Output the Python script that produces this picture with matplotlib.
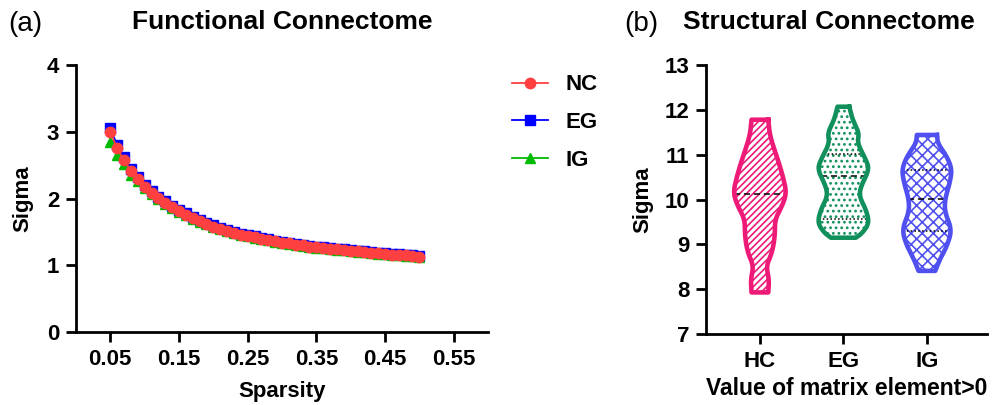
import matplotlib
matplotlib.use('Agg')
import numpy as np
import matplotlib.pyplot as plt

plt.rcParams['font.family'] = ['Liberation Sans', 'DejaVu Sans']
plt.rcParams['hatch.linewidth'] = 1.2

# ---- (a) functional connectome data
sparsity = [0.05, 0.06, 0.07, 0.08, 0.09, 0.10, 0.11, 0.12, 0.13, 0.14,
            0.15, 0.16, 0.17, 0.18, 0.19, 0.20, 0.21, 0.22, 0.23, 0.24,
            0.25, 0.26, 0.27, 0.28, 0.29, 0.30, 0.31, 0.32, 0.33, 0.34,
            0.35, 0.36, 0.37, 0.38, 0.39, 0.40, 0.41, 0.42, 0.43, 0.44,
            0.45, 0.46, 0.47, 0.48, 0.49, 0.50]
sigma_nc = [3.00, 2.75, 2.58, 2.41, 2.29, 2.18, 2.09, 2.01, 1.94, 1.87,
            1.81, 1.76, 1.71, 1.66, 1.62, 1.58, 1.55, 1.52, 1.49, 1.46,
            1.44, 1.42, 1.40, 1.38, 1.36, 1.34, 1.33, 1.31, 1.30, 1.28,
            1.27, 1.26, 1.25, 1.24, 1.23, 1.22, 1.21, 1.20, 1.19, 1.18,
            1.17, 1.16, 1.155, 1.15, 1.14, 1.13]
sigma_eg = [3.05, 2.80, 2.62, 2.45, 2.32, 2.21, 2.12, 2.03, 1.96, 1.89,
            1.83, 1.78, 1.73, 1.68, 1.64, 1.60, 1.565, 1.535, 1.505, 1.475,
            1.455, 1.435, 1.41, 1.39, 1.37, 1.35, 1.34, 1.32, 1.31, 1.29,
            1.28, 1.27, 1.26, 1.25, 1.24, 1.23, 1.22, 1.21, 1.20, 1.19,
            1.18, 1.17, 1.165, 1.16, 1.15, 1.14]
sigma_ig = [2.85, 2.65, 2.52, 2.36, 2.26, 2.16, 2.07, 1.99, 1.92, 1.86,
            1.80, 1.75, 1.70, 1.655, 1.615, 1.575, 1.545, 1.515, 1.485, 1.455,
            1.435, 1.415, 1.395, 1.375, 1.355, 1.335, 1.325, 1.305, 1.295, 1.275,
            1.265, 1.255, 1.245, 1.235, 1.225, 1.215, 1.205, 1.195, 1.185, 1.175,
            1.165, 1.155, 1.15, 1.145, 1.135, 1.125]

# ---- (b) structural connectome: violin outlines (sigma level, half width)
groups = ['HC', 'EG', 'IG']
hc_level = [11.78, 11.41, 10.89, 10.52, 10.15, 9.85, 9.56, 9.18, 8.81, 8.52, 8.22, 7.93]
hc_width = [0.10, 0.12, 0.215, 0.275, 0.32, 0.265, 0.18, 0.18, 0.145, 0.075, 0.11, 0.10]
eg_level = [12.07, 11.78, 11.48, 11.26, 10.89, 10.67, 10.30, 10.07, 9.78, 9.48, 9.26, 9.15]
eg_width = [0.07, 0.11, 0.19, 0.165, 0.27, 0.31, 0.21, 0.19, 0.27, 0.31, 0.23, 0.15]
ig_level = [11.44, 11.25, 10.96, 10.67, 10.38, 10.00, 9.71, 9.33, 8.96, 8.67, 8.41]
ig_width = [0.12, 0.13, 0.24, 0.30, 0.275, 0.215, 0.215, 0.30, 0.24, 0.155, 0.10]
medians = [10.12, 10.52, 10.02]
quartiles = [[], [9.57, 11.02], [9.30, 10.65]]
violin_colors = ['#EE1A78', '#12905C', '#5050F0']
hatches = ['/////', '...', 'xxx']


def smooth_outline(level, width, n=20):
    """quadratic b-spline through midpoints, keeps end points"""
    p = np.column_stack([level, width])
    mids = (p[1:] + p[:-1]) / 2.0
    pts = [p[0]]
    t = np.linspace(0, 1, n)[:, None]
    pts.append(mids[0])
    for i in range(1, len(p) - 1):
        seg = (1 - t) ** 2 * mids[i - 1] + 2 * t * (1 - t) * p[i] + t ** 2 * mids[i]
        pts.extend(seg)
    pts.append(p[-1])
    pts = np.array(pts)
    return pts[:, 0], pts[:, 1]


fig = plt.figure(figsize=(9.97, 4.05), dpi=100)

# ------------------------ (a)
ax1 = fig.add_axes([0.0762, 0.180, 0.4133, 0.6595])
ax1.plot(sparsity, sigma_eg, color='#0000FF', marker='s', markersize=7, lw=1.3,
         label='EG', zorder=2)
ax1.plot(sparsity, sigma_ig, color='#00BB00', marker='^', markersize=7, lw=1.3,
         label='IG', zorder=3)
ax1.plot(sparsity, sigma_nc, color='#FF4040', marker='o', markersize=7.5, lw=1.3,
         label='NC', zorder=4)
ax1.set_xlim(0, 0.6)
ax1.set_ylim(0, 4)
ax1.set_xticks([0.05, 0.15, 0.25, 0.35, 0.45, 0.55])
ax1.set_xticklabels(['0.05', '0.15', '0.25', '0.35', '0.45', '0.55'])
ax1.set_yticks([0, 1, 2, 3, 4])
ax1.set_xlabel('Sparsity', fontsize=16, fontweight='bold', labelpad=8)
ax1.set_ylabel('Sigma', fontsize=16, fontweight='bold', labelpad=10)
h, l = ax1.get_legend_handles_labels()
order = [2, 0, 1]
ax1.legend([h[i] for i in order], [l[i] for i in order], loc='upper left',
           bbox_to_anchor=(1.01, 1.04), frameon=False, labelspacing=0.75,
           handlelength=1.6, handletextpad=0.8,
           prop={'weight': 'bold', 'size': 16})

# ------------------------ (b)
ax2 = fig.add_axes([0.708, 0.175, 0.282, 0.6645])
outlines = [(hc_level, hc_width), (eg_level, eg_width), (ig_level, ig_width)]
for i, (lev, wid) in enumerate(outlines):
    pos = i + 1
    c = violin_colors[i]
    y, w = smooth_outline(lev, wid)
    ax2.fill_betweenx(y, pos - w, pos + w, facecolor='white', edgecolor=c,
                      hatch=hatches[i], linewidth=0, zorder=2)
    xs = np.concatenate([pos + w, (pos - w)[::-1], [pos + w[0]]])
    ys = np.concatenate([y, y[::-1], [y[0]]])
    ax2.plot(xs, ys, color=c, lw=3.3, solid_joinstyle='round', zorder=4)
    wm = np.interp(medians[i], y[::-1], w[::-1])
    ax2.plot([pos - wm, pos + wm], [medians[i]] * 2, color='black', lw=1.1,
             ls=(0, (4, 2.5)), zorder=3)
    for q in quartiles[i]:
        wq = np.interp(q, y[::-1], w[::-1])
        ax2.plot([pos - wq, pos + wq], [q] * 2, color='black', lw=1.1,
                 ls=(0, (1, 1.5)), zorder=3)

ax2.set_xlim(0.353, 3.72)
ax2.set_ylim(7, 13)
ax2.set_xticks([1, 2, 3])
ax2.set_xticklabels(groups)
ax2.set_yticks([7, 8, 9, 10, 11, 12, 13])
ax2.set_xlabel('Value of matrix element>0', fontsize=16.5, fontweight='bold', labelpad=4)
ax2.set_ylabel('Sigma', fontsize=16, fontweight='bold', labelpad=8)

for ax in (ax1, ax2):
    for s in ('top', 'right'):
        ax.spines[s].set_visible(False)
    for s in ('left', 'bottom'):
        ax.spines[s].set_linewidth(2)
    ax.tick_params(direction='out', length=7, width=2, labelsize=16, pad=5)
    for t in ax.get_xticklabels() + ax.get_yticklabels():
        t.set_fontweight('bold')

fig.text(0.283, 0.946, 'Functional Connectome', ha='center', va='center',
         fontsize=19, fontweight='bold')
fig.text(0.831, 0.946, 'Structural Connectome', ha='center', va='center',
         fontsize=19, fontweight='bold')
fig.text(0.008, 0.94, '(a)', ha='left', va='center', fontsize=20)
fig.text(0.626, 0.94, '(b)', ha='left', va='center', fontsize=20)

plt.savefig('out.png', dpi=100)
